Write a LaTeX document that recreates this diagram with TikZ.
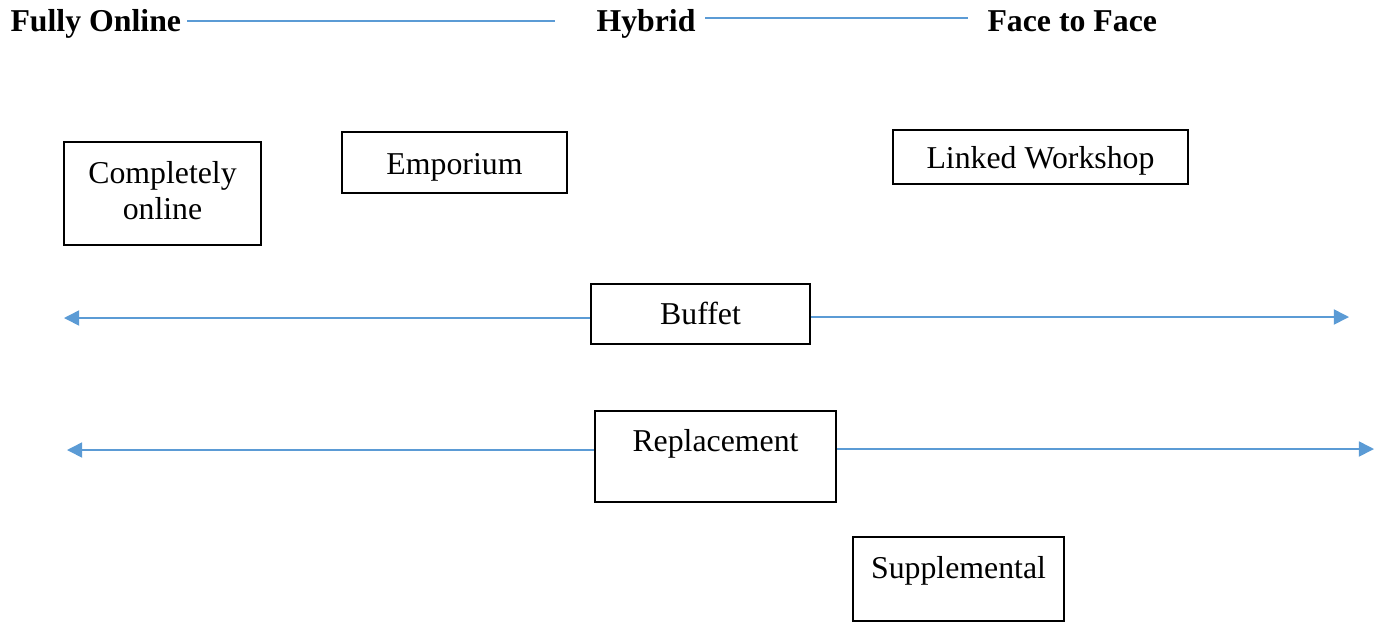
\documentclass[tikz,border=0pt]{standalone}
\usepackage{fontspec}
\setmainfont{Liberation Serif}
\usepackage{xcolor}
\usetikzlibrary{arrows.meta,positioning,calc}
\definecolor{lineblue}{HTML}{5B9BD5}
\newdimen\pxunit
\pxunit=0.3774pt
\tikzset{
    box/.style={draw=black, line width=0.75pt, inner xsep=0pt, inner ysep=0pt, anchor=north west},
    heading/.style={font=\fontsize{12}{13.8}\selectfont\bfseries, inner sep=0pt, anchor=base west},
    link/.style={draw=lineblue, line width=0.6pt},
    twoway/.style={link, -{Triangle[length=5.7pt,width=5.7pt]}}
}

\begin{document}
\begin{tikzpicture}[x=0.3774pt, y=-0.3774pt, font=\fontsize{12}{13.8}\selectfont]
    \useasboundingbox (0, 0) rectangle (1383, 621);

    % headings along the top
    \node[heading] (fully) at (10, 31) {Fully Online};
    \node[heading] (hybrid) at (596, 31) {Hybrid};
    \node[heading] (face) at (987, 31) {Face to Face};
    \coordinate (topa) at (187, 21);
    \coordinate (topb) at (555, 21);
    \coordinate (topc) at (705, 18);
    \coordinate (topd) at (968, 18);
    \draw[link] (topa) -- (topb);
    \draw[link] (topc) -- (topd);

    % models
    \node[box, align=center, minimum width=197*\pxunit, minimum height=103*\pxunit, text depth=6*\pxunit] (completely) at (63, 141) {Completely\\online};
    \node[box, minimum width=225*\pxunit, text height=42*\pxunit, text depth=19*\pxunit] (emporium) at (341, 131) {Emporium};
    \node[box, minimum width=295*\pxunit, text height=38*\pxunit, text depth=16*\pxunit] (linked) at (892, 129) {Linked Workshop};
    \node[box, minimum width=219*\pxunit, text height=40*\pxunit, text depth=20*\pxunit] (buffet) at (590, 283) {Buffet};
    \node[box, minimum width=241*\pxunit, text height=40*\pxunit, text depth=51*\pxunit] (replacement) at (594, 410) {Replacement};
    \node[box, minimum width=211*\pxunit, text height=41*\pxunit, text depth=43*\pxunit] (supplemental) at (852, 536) {Supplemental};

    % arrows out of buffet and replacement
    \coordinate (buffetl) at (64, 318);
    \coordinate (buffetr) at (1349, 317);
    \coordinate (replacementl) at (67, 450);
    \coordinate (replacementr) at (1374, 449);
    \draw[twoway] (buffet.west |- buffetl) -- (buffetl);
    \draw[twoway] (buffet.east |- buffetr) -- (buffetr);
    \draw[twoway] (replacement.west |- replacementl) -- (replacementl);
    \draw[twoway] (replacement.east |- replacementr) -- (replacementr);
\end{tikzpicture}
\end{document}
